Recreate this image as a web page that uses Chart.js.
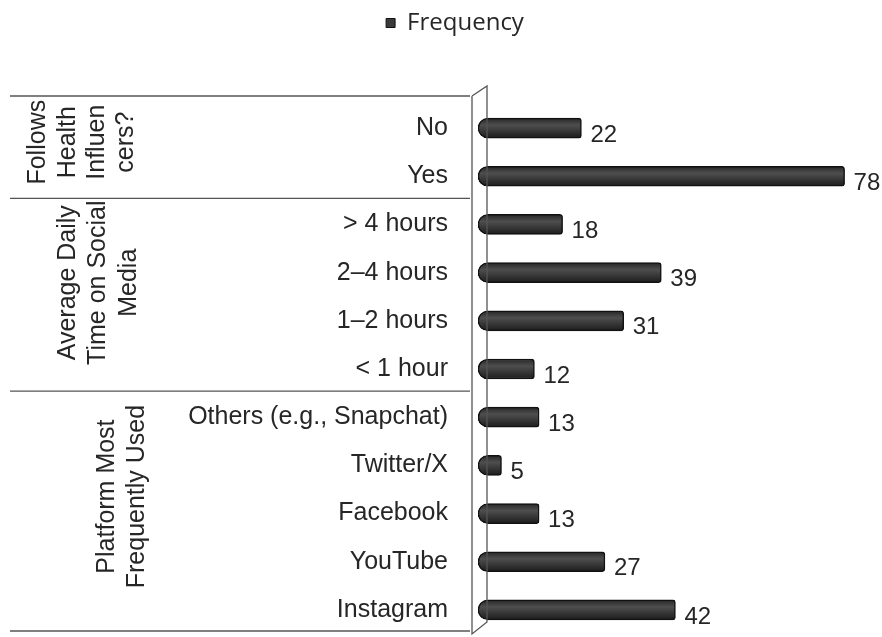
<!DOCTYPE html>
<html>
<head>
<meta charset="utf-8">
<script src="https://cdn.jsdelivr.net/npm/chart.js@4.4.1/dist/chart.umd.min.js"></script>
<style>
  html, body { margin: 0; padding: 0; background: #fff; }
  #wrap { width: 882px; height: 637px; }
</style>
</head>
<body>
<div id="wrap"><canvas id="c"></canvas></div>
<script>
// categories, top to bottom
const categories = ['No', 'Yes', '> 4 hours', '2\u20134 hours', '1\u20132 hours', '< 1 hour',
    'Others (e.g., Snapchat)', 'Twitter/X', 'Facebook', 'YouTube', 'Instagram'];
const frequency = [22, 78, 18, 39, 31, 12, 13, 5, 13, 27, 42];

// outer category groups: label lines + how many inner categories they span
const groupLines = [
    ['Follows', 'Health', 'Influen', 'cers?'],
    ['Average Daily', 'Time on Social', 'Media'],
    ['Platform Most', 'Frequently Used'],
];
const groupSizes = [2, 4, 5];

const FONT = '"Liberation Sans", Arial, sans-serif';
const INK = '#262626';

// extra room under the legend
const legendGap = {
    id: 'legendGap',
    beforeInit(chart) {
        const fit = chart.legend.fit;
        chart.legend.fit = function () {
            fit.bind(chart.legend)();
            this.height += 59;
        };
    },
};

// group labels, separators and the thin 3D wall next to the axis
const groupAxis = {
    id: 'groupAxis',
    afterDraw(chart) {
        const { ctx, chartArea, scales } = chart;
        const y = scales.y;
        const half = (y.getPixelForValue(1) - y.getPixelForValue(0)) / 2;
        ctx.save();
        ctx.strokeStyle = '#555';
        ctx.lineWidth = 1.3;

        // separators between the groups
        let idx = 0;
        const bounds = [y.getPixelForValue(0) - half - 8];
        groupSizes.forEach(n => { idx += n; bounds.push(y.getPixelForValue(idx - 1) + half - 2); });
        bounds[bounds.length - 1] -= 1;
        bounds.forEach(b => {
            ctx.beginPath();
            ctx.moveTo(10, b);
            ctx.lineTo(470, b);
            ctx.stroke();
        });

        // wall
        const L = chartArea.left;
        ctx.beginPath();
        ctx.moveTo(L - 6, bounds[0]);
        ctx.lineTo(L - 6, chartArea.bottom);
        ctx.lineTo(L + 9, chartArea.bottom - 12);
        ctx.lineTo(L + 9, bounds[0] - 10);
        ctx.lineTo(L - 6, bounds[0]);
        ctx.stroke();

        // rotated group labels
        const colX = [[38, 68, 97, 126], [68, 98, 129], [107, 137]];
        const shift = [-10, -14, -17];
        idx = 0;
        groupLines.forEach((lines, g) => {
            const first = idx, last = idx + groupSizes[g] - 1;
            idx += groupSizes[g];
            const cy = (y.getPixelForValue(first) + y.getPixelForValue(last)) / 2 + shift[g];
            ctx.fillStyle = INK;
            ctx.font = '25px ' + FONT;
            ctx.textAlign = 'center';
            ctx.textBaseline = 'middle';
            lines.forEach((t, i) => {
                ctx.save();
                ctx.translate(colX[g][i], cy);
                ctx.rotate(-Math.PI / 2);
                ctx.fillText(t, 0, 0);
                ctx.restore();
            });
        });
        ctx.restore();
    },
    afterDatasetsDraw(chart) {
        const { ctx } = chart;
        const meta = chart.getDatasetMeta(0);
        ctx.save();
        ctx.fillStyle = INK;
        ctx.font = '24px ' + FONT;
        ctx.textAlign = 'left';
        ctx.textBaseline = 'middle';
        meta.data.forEach((bar, i) => {
            ctx.fillText(String(frequency[i]), bar.x + 9, bar.y + 7);
        });
        ctx.restore();
    },
};

// vertical shading to suggest the cylinder look of the original bars
const barFill = (context) => {
    const chart = context.chart;
    const y = chart.scales.y;
    if (!chart.chartArea || !y || context.dataIndex === undefined) return '#3d3d3d';
    const py = y.getPixelForValue(context.dataIndex);
    const g = chart.ctx.createLinearGradient(0, py - 10, 0, py + 10);
    g.addColorStop(0, '#262626');
    g.addColorStop(0.35, '#4e4e4e');
    g.addColorStop(1, '#1c1c1c');
    return g;
};

new Chart(document.getElementById('c'), {
    type: 'bar',
    data: {
        labels: categories,
        datasets: [{
            label: 'Frequency',
            data: frequency,
            backgroundColor: barFill,
            borderColor: '#111',
            borderWidth: 1.5,
            borderSkipped: false,
            borderRadius: { topLeft: 10, bottomLeft: 10, topRight: 3, bottomRight: 3 },
            barThickness: 20,
        }],
    },
    options: {
        indexAxis: 'y',
        responsive: true,
        maintainAspectRatio: false,
        animation: false,
        layout: { padding: { left: 56, right: 28, top: 5, bottom: 3 } },
        plugins: {
            legend: {
                display: true,
                position: 'top',
                labels: {
                    color: INK,
                    font: { size: 24, family: '"Open Sans", ' + FONT },
                    boxWidth: 9,
                    boxHeight: 9,
                    padding: 6,
                    generateLabels: (chart) => [{
                        text: chart.data.datasets[0].label,
                        fillStyle: '#3a3a3a',
                        strokeStyle: '#111',
                        lineWidth: 1,
                        fontColor: INK,
                        datasetIndex: 0,
                    }],
                },
            },
            tooltip: { enabled: false },
        },
        scales: {
            x: { display: false, min: 0, max: 80 },
            y: {
                grid: { display: true, drawOnChartArea: false, drawTicks: true, tickLength: 30, color: 'rgba(0,0,0,0)' },
                border: { display: false },
                ticks: {
                    color: INK,
                    font: { size: 25, family: FONT },
                    padding: 0,
                },
                afterFit: (scale) => {
                    scale.width = 422;
                    scale.paddingTop = 0;
                    scale.paddingBottom = 0;
                },
            },
        },
    },
    plugins: [legendGap, groupAxis],
});
</script>
</body>
</html>
